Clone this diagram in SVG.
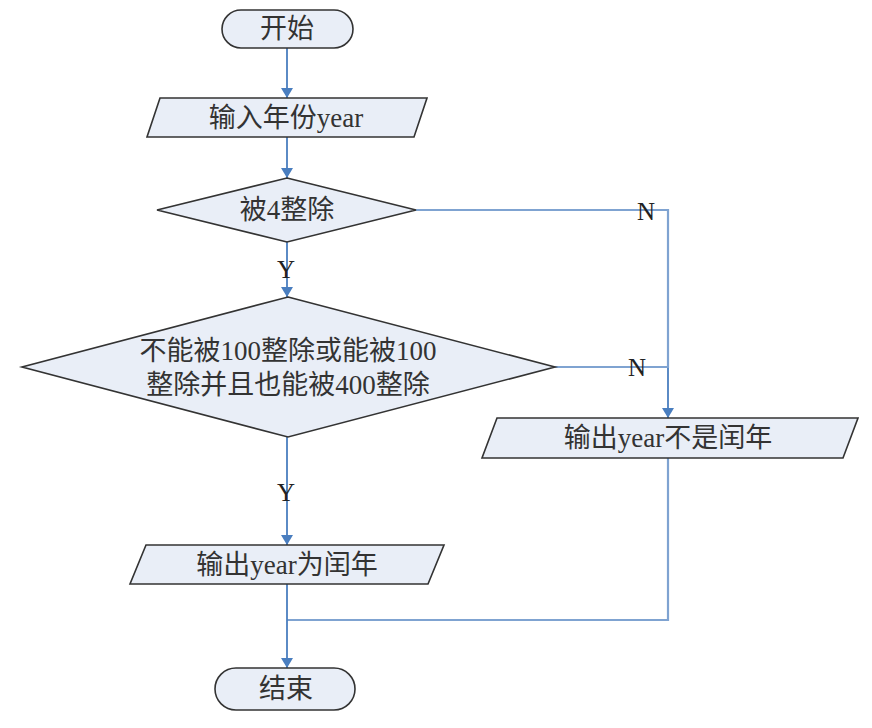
<svg xmlns="http://www.w3.org/2000/svg" width="872" height="728" viewBox="0 0 872 728">
<defs>
<marker id="arr" viewBox="0 0 10 12" refX="10" refY="6" markerWidth="10" markerHeight="12" markerUnits="userSpaceOnUse" orient="auto">
<path d="M0,0 L10,6 L0,12 Z" fill="#4a7ebf"/>
</marker>
<style>
.shape{fill:#e9eef7;stroke:#333;stroke-width:1.6}
.line{fill:none;stroke:#4a7ebf;stroke-width:1.8}
.line2{fill:none;stroke:#7fa3d1;stroke-width:2.2}
.t{font-family:"Liberation Serif","Noto Sans CJK SC",serif;font-size:27px;fill:#333;text-anchor:middle;dominant-baseline:central}
.lab{font-family:"Liberation Serif",serif;font-size:25px;fill:#222;text-anchor:middle;dominant-baseline:central}
</style>
</defs>
<rect width="872" height="728" fill="#fff"/>
<g id="connectors">
<path class="line" d="M287,48 V98" marker-end="url(#arr)"/>
<path class="line" d="M287,137 V178" marker-end="url(#arr)"/>
<path class="line" d="M287,242 V297" marker-end="url(#arr)"/>
<path class="line2" d="M416,210 H668 V368"/>
<path class="line" d="M668,368 V418" marker-end="url(#arr)"/>
<path class="line2" d="M555,367 H668"/>
<path class="line" d="M287,437 V545" marker-end="url(#arr)"/>
<path class="line2" d="M668,458 V620 H287"/>
<path class="line" d="M287,584 V668" marker-end="url(#arr)"/>
<text class="lab" x="646" y="211">N</text>
<text class="lab" x="637" y="367">N</text>
<text class="lab" x="286" y="269">Y</text>
<text class="lab" x="286" y="492">Y</text>
</g>
<g id="start">
<rect class="shape" x="222" y="10" width="131" height="38" rx="19"/>
<text class="t" x="287" y="29">开始</text>
</g>
<g id="input">
<polygon class="shape" points="160,98 427,98 414,137 147,137"/>
<text class="t" x="286" y="118">输入年份year</text>
</g>
<g id="cond1">
<polygon class="shape" points="287,178 416,210 287,242 157,210"/>
<text class="t" x="287" y="210">被4整除</text>
</g>
<g id="cond2">
<polygon class="shape" points="288,297 555,367 288,437 22,367"/>
<text class="t" x="288" y="351">不能被100整除或能被100</text>
<text class="t" x="288" y="385">整除并且也能被400整除</text>
</g>
<g id="outNo">
<polygon class="shape" points="497,418 858,418 843,458 482,458"/>
<text class="t" x="668" y="438">输出year不是闰年</text>
</g>
<g id="outYes">
<polygon class="shape" points="146,545 444,545 428,584 130,584"/>
<text class="t" x="287" y="565">输出year为闰年</text>
</g>
<g id="end">
<rect class="shape" x="215" y="668" width="140" height="42" rx="21"/>
<text class="t" x="286" y="689">结束</text>
</g>
</svg>
